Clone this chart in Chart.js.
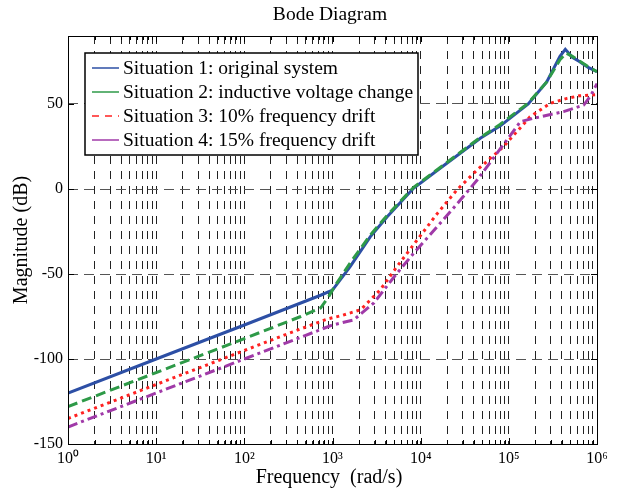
<!DOCTYPE html>
<html>
<head>
<meta charset="utf-8">
<script src="https://cdn.jsdelivr.net/npm/chart.js@4.4.0/dist/chart.umd.min.js"></script>
<style>
  html, body { margin: 0; padding: 0; background: #fff; }
</style>
</head>
<body>
<canvas id="grafico" width="617" height="492"></canvas>
<script>
//  DADOS
const freq1 = [1, 10, 100, 733, 1000, 1585, 2690, 4170, 8300, 15500, 47900, 79400, 166000, 269000, 380000, 437000, 525000, 631000, 794000, 1000000];
const mag1  = [-120, -100, -80, -62.5, -59.5, -45.7, -28, -16.3, 0.4, 11, 30, 37, 50, 63, 78, 82.2, 77.5, 75, 71.5, 69];

const freq2 = [1, 10, 100, 437, 733, 912, 1050, 1585, 2690, 4170, 8320, 15500, 47900, 79400, 166000, 269000, 380000, 447000, 525000, 646000, 794000, 1000000];
const mag2  = [-128, -108, -88, -75, -70, -63, -57.5, -43.5, -27, -15.5, 1, 11.5, 30.5, 38, 50.5, 63, 76, 80, 78, 75, 72, 69];

const freq3 = [1, 10, 100, 316, 870, 1260, 2090, 3470, 5370, 9120, 15500, 25700, 43700, 87100, 174000, 295000, 457000, 631000, 1000000];
const mag3  = [-135, -115, -95, -85, -76.5, -74.5, -71, -59.4, -45.7, -30, -14.3, -0.6, 11.2, 24.9, 42.5, 50.4, 53.3, 54.8, 55.5];

const freq4 = [1, 10, 100, 1000, 1740, 2950, 5010, 8320, 15500, 28200, 43700, 95500, 135000, 191000, 417000, 708000, 851000, 1000000];
const mag4  = [-140, -120, -100, -80, -77, -67, -51.6, -37.8, -22, -6.5, 5.3, 29, 39.6, 41.6, 45.5, 49.4, 55, 62];

const nomes = [
  'Situation 1: original system',
  'Situation 2: inductive voltage change',
  'Situation 3: 10% frequency drift',
  'Situation 4: 15% frequency drift'
];

const decadas = [1, 10, 100, 1000, 10000, 100000, 1000000];
const rotulosDecadas = ['10\u2070', '10\u00b9', '10\u00b2', '10\u00b3', '10\u2074', '10\u2075', '10\u2076'];
const ticksY = [50, 0, -50, -100, -150];

const titulo = 'Bode Diagram';
const tituloX = 'Frequency  (rad/s)';
const tituloY = 'Magnitude (dB)';

const FONTE = '"Liberation Serif", "Times New Roman", serif';

//  FUNCOES
function pontos(fs, ms) {
  return fs.map((f, i) => ({ x: f, y: ms[i] }));
}

// moldura, ticks para dentro, titulos e legenda
const moldura = {
  id: 'moldura',
  afterDraw(chart) {
    const ctx = chart.ctx;
    const a = chart.chartArea;
    const sx = chart.scales.x;
    const sy = chart.scales.y;
    ctx.save();

    ctx.fillStyle = '#000';
    ctx.textAlign = 'center';
    ctx.textBaseline = 'middle';
    ctx.font = '19.5px ' + FONTE;
    ctx.fillText(titulo, 330, 15);

    ctx.font = '20px ' + FONTE;
    ctx.fillText(tituloX, 329, 478);

    ctx.save();
    ctx.translate(22, 240);
    ctx.rotate(-Math.PI / 2);
    ctx.fillText(tituloY, 0, 0);
    ctx.restore();

    // ticks
    ctx.strokeStyle = '#000';
    ctx.lineWidth = 1;
    ctx.beginPath();
    sx.ticks.forEach(t => {
      const px = Math.round(sx.getPixelForValue(t.value)) + 0.5;
      const len = decadas.includes(t.value) ? 6 : 4;
      ctx.moveTo(px, a.bottom); ctx.lineTo(px, a.bottom - len);
      ctx.moveTo(px, a.top); ctx.lineTo(px, a.top + len);
    });
    ticksY.forEach(v => {
      const py = Math.round(sy.getPixelForValue(v)) + 0.5;
      ctx.moveTo(a.left, py); ctx.lineTo(a.left + 6, py);
      ctx.moveTo(a.right, py); ctx.lineTo(a.right - 6, py);
    });
    ctx.stroke();
    ctx.strokeRect(Math.round(a.left) + 0.5, Math.round(a.top) + 0.5,
                   Math.round(a.right - a.left), Math.round(a.bottom - a.top));

    // legenda
    const lx = a.left + 17, ly = 53, lw = 333, lh = 102;
    ctx.fillStyle = '#fff';
    ctx.fillRect(lx, ly, lw, lh);
    ctx.lineWidth = 1.5;
    ctx.strokeStyle = '#000';
    ctx.strokeRect(lx, ly, lw, lh);
    ctx.textAlign = 'left';
    ctx.font = '19.5px ' + FONTE;
    chart.data.datasets.forEach((ds, i) => {
      const y = ly + 15 + i * 24;
      ctx.beginPath();
      ctx.strokeStyle = ds.borderColor;
      ctx.lineWidth = 1.5;
      ctx.setLineDash(i === 2 ? [7, 6] : []);
      ctx.moveTo(lx + 7, y);
      ctx.lineTo(lx + 34, y);
      ctx.stroke();
      ctx.setLineDash([]);
      ctx.fillStyle = '#000';
      ctx.fillText(ds.label, lx + 38, y + 1);
    });

    ctx.restore();
  }
};

//  GRAFICO
const ctx = document.getElementById('grafico');

new Chart(ctx, {
  type: 'line',
  data: {
    datasets: [
      {
        label: nomes[0],
        data: pontos(freq1, mag1),
        borderColor: '#2d4fa5',
        borderWidth: 3,
        order: 4,
      },
      {
        label: nomes[1],
        data: pontos(freq2, mag2),
        borderColor: '#2e9a48',
        borderWidth: 3,
        borderDash: [10, 5],
        order: 3,
      },
      {
        label: nomes[2],
        data: pontos(freq3, mag3),
        borderColor: '#ff2222',
        borderWidth: 3,
        borderDash: [3, 4],
        order: 2,
      },
      {
        label: nomes[3],
        data: pontos(freq4, mag4),
        borderColor: '#a03aa8',
        borderWidth: 3,
        borderDash: [10, 4, 3, 4],
        order: 1,
      },
    ]
  },
  options: {
    responsive: false,
    animation: false,
    devicePixelRatio: 1,
    elements: {
      point: { radius: 0 },
      line: { tension: 0, fill: false }
    },
    layout: {
      padding: { top: 36, right: 20, left: 0, bottom: 0 }
    },
    plugins: {
      legend: { display: false },
      tooltip: { enabled: false }
    },
    scales: {
      x: {
        type: 'logarithmic',
        min: 1,
        max: 1000000,
        afterFit: scale => { scale.height = 48; },
        afterBuildTicks: scale => {
          const lista = [];
          decadas.forEach((d, i) => {
            if (i < decadas.length - 1) {
              for (let m = 1; m <= 9; m++) lista.push({ value: d * m });
            } else {
              lista.push({ value: d });
            }
          });
          scale.ticks = lista;
        },
        ticks: {
          autoSkip: false,
          maxRotation: 0,
          padding: 5,
          color: '#000',
          font: { family: FONTE, size: 16 },
          callback: function (v) {
            const i = decadas.indexOf(v);
            return i >= 0 ? rotulosDecadas[i] : '';
          }
        },
        grid: {
          drawTicks: false,
          lineWidth: 1,
          color: c => (c.tick && (c.tick.value === 1 || c.tick.value === 1000000)) ? 'rgba(0,0,0,0)' : '#222'
        },
        border: { display: false, dash: [8, 7] }
      },
      y: {
        min: -150,
        max: 90,
        afterFit: scale => { scale.width = 68; },
        afterBuildTicks: scale => {
          scale.ticks = ticksY.map(v => ({ value: v }));
        },
        ticks: {
          padding: 5,
          color: '#000',
          font: { family: FONTE, size: 16 },
          callback: v => String(v)
        },
        grid: {
          drawTicks: false,
          lineWidth: 1,
          color: c => (c.tick && c.tick.value !== -150) ? '#555' : 'rgba(0,0,0,0)'
        },
        border: { display: false, dash: [10, 6] }
      }
    }
  },
  plugins: [moldura]
});
</script>
</body>
</html>
